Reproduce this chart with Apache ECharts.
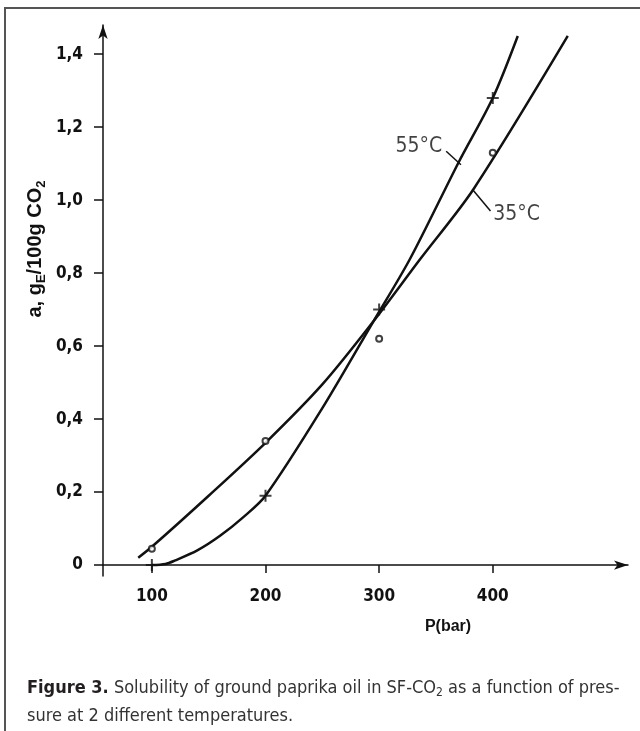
<!DOCTYPE html>
<html>
<head>
<meta charset="utf-8">
<script src="https://cdn.jsdelivr.net/npm/echarts@6/dist/echarts.min.js"></script>
<style>
  html, body { margin: 0; padding: 0; background: #fff; }
  #chart { width: 640px; height: 731px; }
</style>
</head>
<body>
<div id="chart"></div>
<script>
// measured points (P in bar, solubility a in g/100g CO2)
const pressure = [100, 200, 300, 400]
const sol35 = [0.045, 0.34, 0.62, 1.13]
const sol55 = [0.0, 0.19, 0.70, 1.28]

// hand-drawn curves
const curve35P = [88, 100, 150, 200, 250, 295, 336, 383, 466]
const curve35 = [0.02, 0.05, 0.19, 0.335, 0.495, 0.668, 0.838, 1.03, 1.45]
const curve55P = [100, 112, 120, 140, 160, 180, 200, 250, 295, 327, 370, 400, 422]
const curve55 = [0.0, 0.003, 0.012, 0.04, 0.08, 0.13, 0.19, 0.43, 0.668, 0.838, 1.104, 1.28, 1.45]

// curve labels and their leader lines
const label55 = [335, 1.148]
const label35 = [421, 0.96]
const leader55 = [[359, 1.134], [372, 1.097]]
const leader35 = [[382, 1.03], [398, 0.97]]

const xTicks = [100, 200, 300, 400]
const yTicks = [0, 0.2, 0.4, 0.6, 0.8, 1.0, 1.2, 1.4]

const zip = (xs, ys) => xs.map((x, i) => [x, ys[i]])

const tickFont = { color: '#111', fontSize: 17, fontWeight: 'bold', fontFamily: '"DejaVu Sans Condensed", "DejaVu Sans", sans-serif' }
const capFont = '"Liberation Sans Narrow", "DejaVu Sans Condensed", sans-serif'
const titleFont = '"Liberation Sans", Arial, sans-serif'
const crossPath = 'path://M-1,-6 L1,-6 L1,-1 L6,-1 L6,1 L1,1 L1,6 L-1,6 L-1,1 L-6,1 L-6,-1 L-1,-1 Z'

const chart = echarts.init(document.getElementById('chart'), null, { renderer: 'canvas' })

chart.setOption({
  backgroundColor: '#fff',
  animation: false,
  grid: { left: 103, right: 12, top: 25, bottom: 155 },
  xAxis: {
    type: 'value',
    min: 57,
    max: 519,
    axisLine: {
      onZero: true,
      symbol: ['none', 'arrow'],
      symbolSize: [7, 14],
      lineStyle: { color: '#111', width: 1.5 },
    },
    axisTick: { customValues: xTicks, length: 8, lineStyle: { color: '#111', width: 1.5 } },
    axisLabel: { customValues: xTicks, margin: 12, ...tickFont },
    splitLine: { show: false },
  },
  yAxis: {
    type: 'value',
    min: -0.03,
    max: 1.48,
    axisLine: {
      show: true,
      symbol: ['none', 'arrow'],
      symbolSize: [7, 14],
      lineStyle: { color: '#111', width: 1.5 },
    },
    axisTick: { customValues: yTicks, length: 9, lineStyle: { color: '#111', width: 1.5 } },
    axisLabel: {
      customValues: yTicks,
      margin: 20,
      ...tickFont,
      formatter: v => (v === 0 ? '0' : v.toFixed(1).replace('.', ',')),
    },
    splitLine: { show: false },
  },
  series: [
    {
      name: '35°C',
      type: 'line',
      data: zip(curve35P, curve35),
      smooth: 0.3,
      showSymbol: false,
      lineStyle: { color: '#111', width: 2.5 },
      markLine: {
        silent: true,
        symbol: 'none',
        label: { show: false },
        lineStyle: { color: '#111', width: 1.5, type: 'solid' },
        data: [[{ coord: leader35[0] }, { coord: leader35[1] }]],
      },
    },
    {
      name: '55°C',
      type: 'line',
      data: zip(curve55P, curve55),
      smooth: 0.3,
      showSymbol: false,
      lineStyle: { color: '#111', width: 2.5 },
      markLine: {
        silent: true,
        symbol: 'none',
        label: { show: false },
        lineStyle: { color: '#111', width: 1.5, type: 'solid' },
        data: [[{ coord: leader55[0] }, { coord: leader55[1] }]],
      },
    },
    {
      type: 'scatter',
      data: zip(pressure, sol35),
      symbol: 'circle',
      symbolSize: 6,
      itemStyle: { color: '#fff', borderColor: '#111', borderWidth: 2 },
      z: 5,
    },
    {
      type: 'scatter',
      data: zip(pressure, sol55),
      symbol: crossPath,
      symbolSize: 12,
      itemStyle: { color: '#111' },
      z: 5,
    },
    {
      type: 'scatter',
      symbolSize: 0,
      silent: true,
      data: [
        { value: label55, name: '55°C' },
        { value: label35, name: '35°C' },
      ],
      label: {
        show: true,
        position: 'inside',
        formatter: p => p.name,
        ...tickFont,
        fontSize: 21,
        fontWeight: 'normal',
      },
    },
  ],
  graphic: [
    {
      type: 'polyline',
      shape: { points: [[5, 731], [5, 8], [640, 8]] },
      style: { stroke: '#555', lineWidth: 2, fill: null },
    },
    {
      type: 'text',
      x: 35,
      y: 249,
      rotation: Math.PI / 2,
      style: {
        text: '{m|a, g}{s|E}{m|/100g CO}{s|2}',
        align: 'center',
        verticalAlign: 'middle',
        rich: {
          m: { fontSize: 20, fontWeight: 'bold', lineHeight: 26, fontFamily: titleFont, fill: '#111' },
          s: { fontSize: 13, fontWeight: 'bold', lineHeight: 15, verticalAlign: 'bottom', fontFamily: titleFont, fill: '#111' },
        },
      },
    },
    {
      type: 'text',
      x: 448,
      y: 627,
      style: {
        text: 'P(bar)',
        align: 'center',
        verticalAlign: 'middle',
        fontSize: 16,
        fontWeight: 'bold',
        fontFamily: titleFont,
        fill: '#111',
      },
    },
    {
      type: 'text',
      x: 27,
      y: 688,
      style: {
        text: '{b|Figure 3.}{n| Solubility of ground paprika oil in SF-CO}{s|2}{n| as a function of pres-}',
        verticalAlign: 'middle',
        rich: {
          b: { fontSize: 18, fontWeight: 'bold', lineHeight: 22, fontFamily: capFont, fill: '#231f20' },
          n: { fontSize: 18, lineHeight: 22, fontFamily: capFont, fill: '#333' },
          s: { fontSize: 12, lineHeight: 13, verticalAlign: 'bottom', fontFamily: capFont, fill: '#333' },
        },
      },
    },
    {
      type: 'text',
      x: 27,
      y: 716,
      style: {
        text: 'sure at 2 different temperatures.',
        verticalAlign: 'middle',
        fontSize: 18,
        fontFamily: capFont,
        fill: '#333',
      },
    },
  ],
})
</script>
</body>
</html>
